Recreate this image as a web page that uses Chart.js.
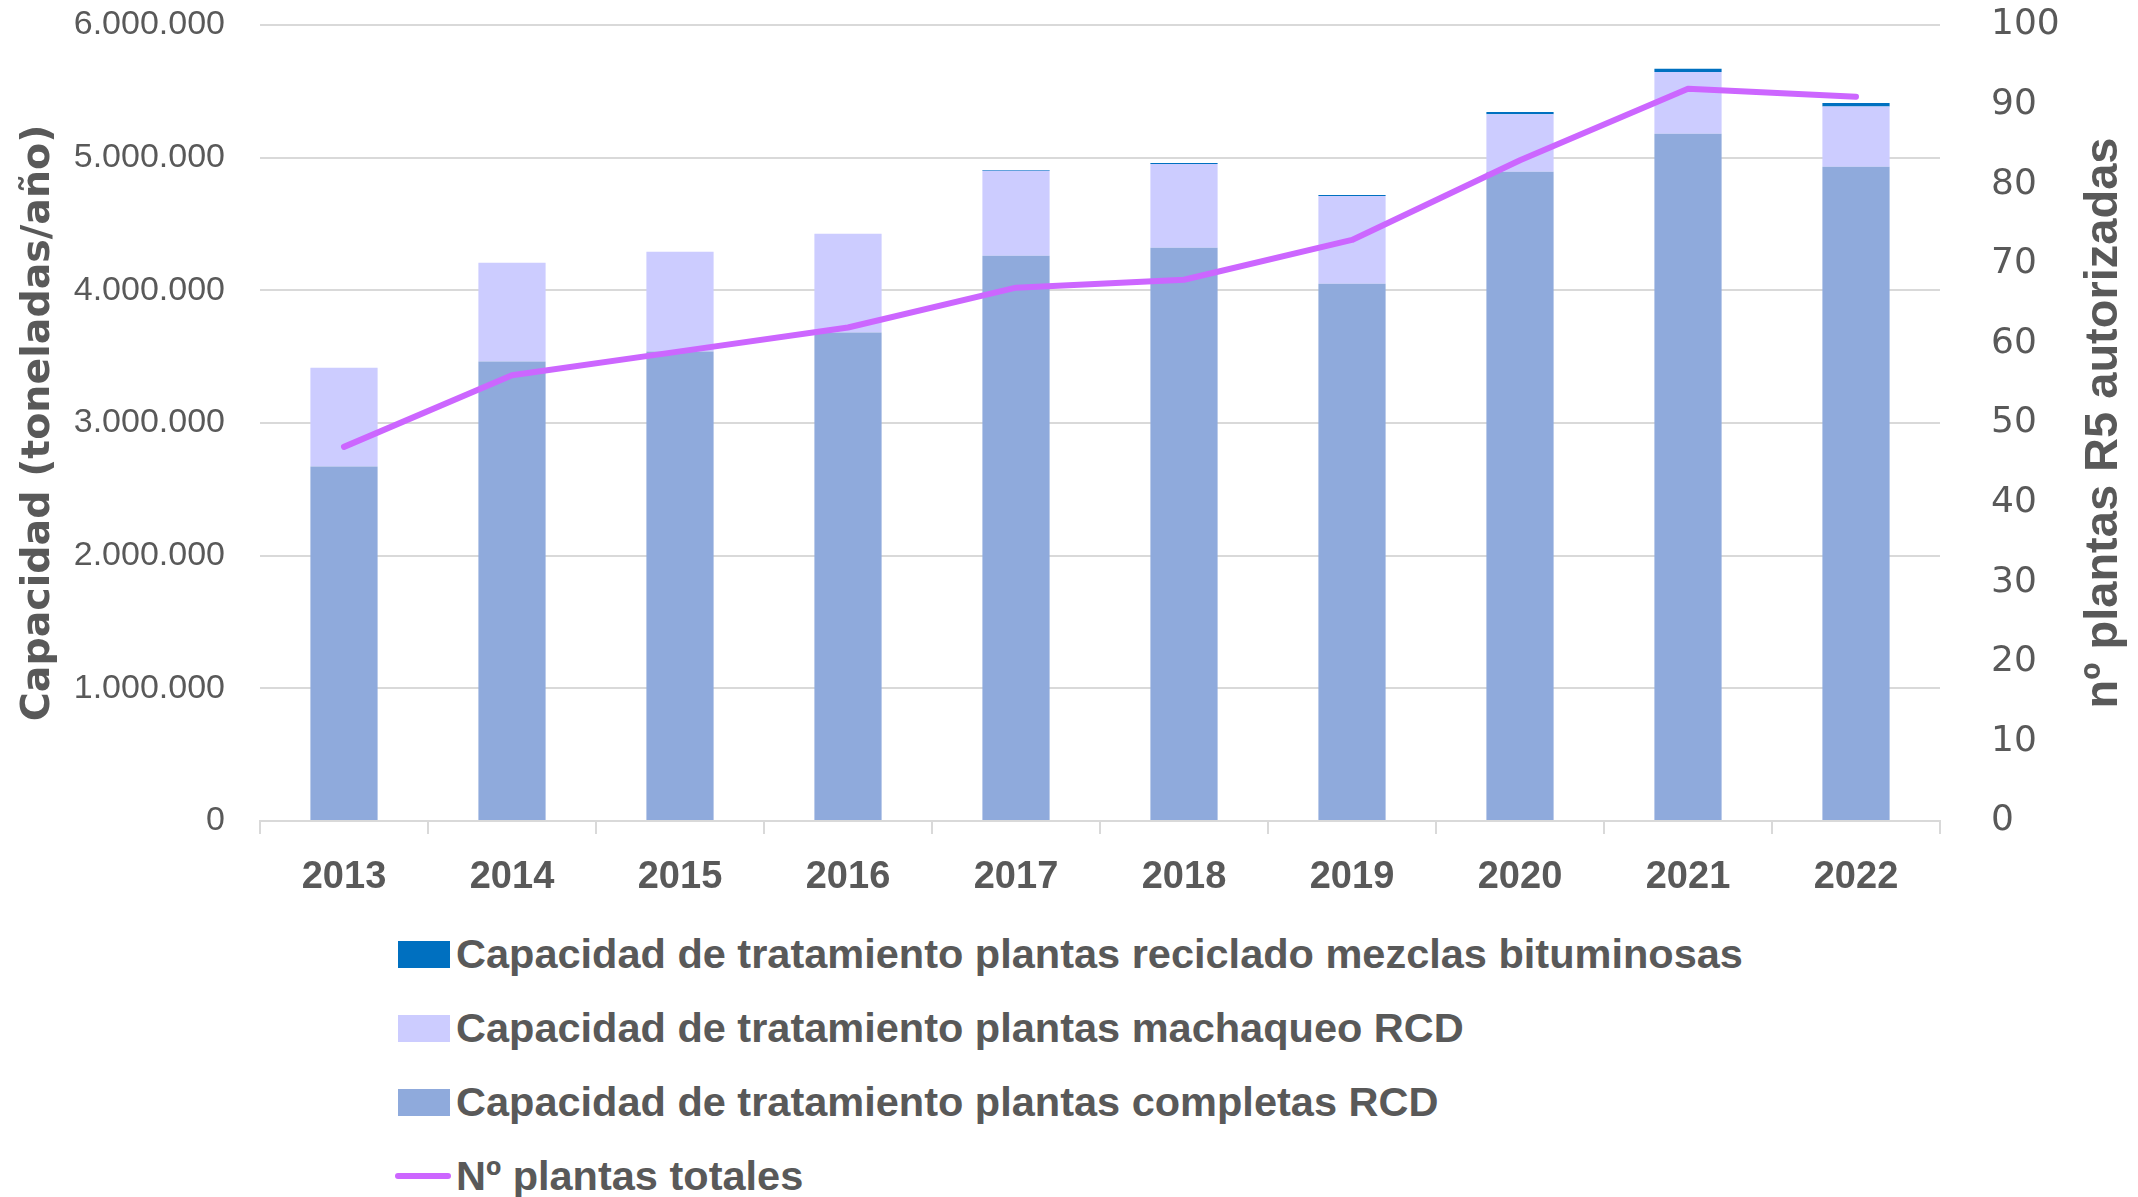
<!DOCTYPE html>
<html lang="es">
<head>
<meta charset="utf-8">
<title>Capacidad de tratamiento RCD</title>
<script src="https://cdn.jsdelivr.net/npm/chart.js@4.4.1/dist/chart.umd.min.js"></script>
<style>
    html, body { margin: 0; padding: 0; background: #ffffff; }
    #wrap { position: relative; width: 2138px; height: 1197px; overflow: hidden; }
    #grafico { position: absolute; left: 0; top: 0; }
    #leyenda { position: absolute; left: 395px; top: 917px; }
    .ley-item { height: 74px; display: flex; align-items: center; }
    .ley-caja { width: 52px; height: 27px; margin: 0 6px 0 3px; }
    .ley-linea { width: 56px; height: 6px; border-radius: 3px; margin-right: 5px; }
    .ley-texto {
        font-family: 'Liberation Sans', Arial, sans-serif;
        font-weight: bold; font-size: 41.5px; color: #595959; white-space: nowrap;
    }
</style>
</head>
<body>
<div id="wrap">
    <canvas id="grafico" width="2138" height="915"></canvas>
    <div id="leyenda"></div>
</div>
<script>
const anios = ['2013', '2014', '2015', '2016', '2017', '2018', '2019', '2020', '2021', '2022'];

// capacidad (toneladas/año)
const plantasCompletas = [2672000, 3464000, 3539000, 3683000, 4261000, 4321000, 4050000, 4894000, 5181000, 4932000];
const plantasMachaqueo = [744000, 744000, 751000, 744000, 641000, 631000, 661000, 433000, 465000, 453000];
const plantasBituminosas = [0, 0, 0, 0, 5000, 8000, 8000, 18000, 25000, 27000];

// nº plantas R5 autorizadas
const plantasTotales = [47, 56, 59, 62, 67, 68, 73, 83, 92, 91];

const ticksIzq = [0, 1000000, 2000000, 3000000, 4000000, 5000000, 6000000];
const ticksDer = [0, 10, 20, 30, 40, 50, 60, 70, 80, 90, 100];

const nombres = [
    'Capacidad de tratamiento plantas completas RCD',
    'Capacidad de tratamiento plantas machaqueo RCD',
    'Capacidad de tratamiento plantas reciclado mezclas bituminosas',
    'Nº plantas totales'
];

const gris = '#595959';
const rejilla = '#d9d9d9';
const fuente = "'Liberation Sans', Arial, sans-serif";

function formatearMiles(valor) {
    return String(valor).replace(/\B(?=(\d{3})+(?!\d))/g, '.');
}

// fija el tamaño de cada eje y quita el relleno extra de las etiquetas
function fijarEje(ancho, alto) {
    return function (scale) {
        if (ancho) scale.width = ancho;
        if (alto) scale.height = alto;
        scale.paddingTop = 0;
        scale.paddingBottom = 0;
        scale.paddingLeft = 0;
        scale.paddingRight = 0;
    };
}

// titulo del eje derecho, leido de abajo hacia arriba
const tituloDerecho = {
    id: 'tituloDerecho',
    afterDraw(chart) {
        const ctx = chart.ctx;
        const area = chart.chartArea;
        ctx.save();
        ctx.translate(2104, (area.top + area.bottom) / 2);
        ctx.rotate(-Math.PI / 2);
        ctx.font = 'bold 47px ' + fuente;
        ctx.fillStyle = gris;
        ctx.textAlign = 'center';
        ctx.textBaseline = 'middle';
        ctx.fillText('nº plantas R5 autorizadas', 0, 0);
        ctx.restore();
    }
};

const ctx = document.getElementById('grafico').getContext('2d');

const grafico = new Chart(ctx, {
    type: 'bar',
    data: {
        labels: anios,
        datasets: [
            {
                label: nombres[0],
                data: plantasCompletas,
                backgroundColor: '#8FAADC',
                yAxisID: 'y',
                order: 1
            },
            {
                label: nombres[1],
                data: plantasMachaqueo,
                backgroundColor: '#CCCCFF',
                yAxisID: 'y',
                order: 1
            },
            {
                label: nombres[2],
                data: plantasBituminosas,
                backgroundColor: '#0070C0',
                yAxisID: 'y',
                order: 1
            },
            {
                type: 'line',
                label: nombres[3],
                data: plantasTotales,
                borderColor: '#CC66FF',
                backgroundColor: '#CC66FF',
                borderWidth: 6,
                borderCapStyle: 'round',
                borderJoinStyle: 'round',
                pointRadius: 0,
                tension: 0,
                yAxisID: 'y1',
                order: 0
            }
        ]
    },
    options: {
        responsive: false,
        animation: false,
        devicePixelRatio: 1,
        layout: { padding: { top: 25, left: 0, right: 0, bottom: 0 } },
        datasets: {
            bar: { categoryPercentage: 1, barPercentage: 0.4 }
        },
        plugins: {
            legend: { display: false },
            tooltip: { enabled: false }
        },
        scales: {
            x: {
                stacked: true,
                grid: {
                    offset: true,
                    drawOnChartArea: false,
                    drawTicks: true,
                    tickLength: 13,
                    color: rejilla,
                    lineWidth: 2
                },
                border: { display: true, color: rejilla, width: 2 },
                ticks: {
                    color: gris,
                    padding: 21,
                    font: { family: fuente, weight: 'bold', size: 38 }
                },
                afterFit: fijarEje(0, 94)
            },
            y: {
                stacked: true,
                position: 'left',
                min: 0,
                max: 6000000,
                afterBuildTicks(scale) { scale.ticks = ticksIzq.map(v => ({ value: v })); },
                grid: { color: rejilla, lineWidth: 2, drawTicks: false },
                border: { display: false },
                ticks: {
                    color: gris,
                    padding: 35,
                    font: { family: fuente, size: 34 },
                    callback: v => formatearMiles(v)
                },
                title: {
                    display: true,
                    text: 'Capacidad (toneladas/año)',
                    color: gris,
                    font: { family: "'DejaVu Sans', Verdana, sans-serif", weight: 'bold', size: 39.5 },
                    padding: { top: 15, bottom: 0 }
                },
                afterFit: fijarEje(260, 0)
            },
            y1: {
                position: 'right',
                min: 0,
                max: 100,
                afterBuildTicks(scale) { scale.ticks = ticksDer.map(v => ({ value: v })); },
                grid: { drawOnChartArea: false, drawTicks: false },
                border: { display: false },
                ticks: {
                    color: gris,
                    padding: 51,
                    font: { family: "'DejaVu Sans', sans-serif", size: 36 }
                },
                afterFit: fijarEje(198, 0)
            }
        }
    },
    plugins: [tituloDerecho]
});

// leyenda en html: una entrada por fila, como en el original
const leyenda = document.getElementById('leyenda');
[2, 1, 0, 3].forEach(i => {
    const ds = grafico.data.datasets[i];
    const fila = document.createElement('div');
    fila.className = 'ley-item';
    const marca = document.createElement('span');
    if (ds.type === 'line') {
        marca.className = 'ley-linea';
        marca.style.background = ds.borderColor;
    } else {
        marca.className = 'ley-caja';
        marca.style.background = ds.backgroundColor;
    }
    const texto = document.createElement('span');
    texto.className = 'ley-texto';
    texto.textContent = ds.label;
    fila.appendChild(marca);
    fila.appendChild(texto);
    leyenda.appendChild(fila);
});
</script>
</body>
</html>
